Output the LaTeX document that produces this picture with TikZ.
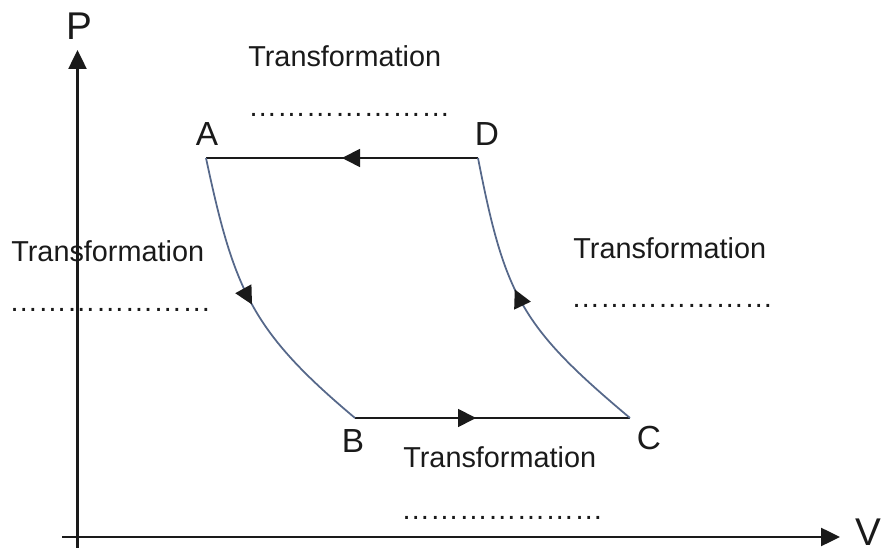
\documentclass[tikz,border=0pt]{standalone}
\usepackage{fontspec}
\setmainfont{Liberation Sans}
\usepackage{tikz}
\usepackage{xcolor}
\usetikzlibrary{arrows.meta,decorations.markings}
\definecolor{ink}{HTML}{1A1A1A}
\definecolor{curveblue}{HTML}{56688A}
\newcommand{\fillin}{\char"2026\char"2026\char"2026\char"2026\char"2026\char"2026\char"2026}
\tikzset{
  axis/.style={-{Triangle[length=3.8mm,width=3.6mm]},line width=1.4pt,
               draw=ink},
  edge/.style={line width=1pt,draw=ink},
  adiabat/.style={line width=1pt,draw=curveblue},
  midarrow/.style={postaction={decorate},
                   decoration={markings,mark=at position #1 with
                     {\arrow[color=ink]{Triangle[length=3.6mm,width=3.6mm]}}}},
  ptlabel/.style={font=\fontsize{19}{22}\selectfont,text=ink,inner sep=0pt},
  axislabel/.style={font=\fontsize{22}{26}\selectfont,text=ink,inner sep=0pt},
  note/.style={font=\fontsize{16.4}{19}\selectfont,text=ink,inner sep=0pt,
               anchor=base west}
}

\begin{document}
\begin{tikzpicture}[x=1cm,y=1cm]
    \path[use as bounding box] (0,0) rectangle (17.68,11.04);
    % axes
    \coordinate (ybot) at (1.55,0.08);
    \coordinate (ytip) at (1.55,10.04);
    \coordinate (xleft) at (1.24,0.30);
    \coordinate (xtip) at (16.80,0.30);
    \draw[axis] (ybot) -- (ytip);
    \draw[axis] (xleft) -- (xtip);
    \node[axislabel] (lblP) at (1.58,10.52) {P};
    \node[axislabel] (lblV) at (17.36,0.40) {V};

    % cycle
    \coordinate (A) at (4.12,7.88);
    \coordinate (D) at (9.56,7.88);
    \coordinate (B) at (7.10,2.68);
    \coordinate (C) at (12.60,2.68);
    \draw[edge,midarrow=0.5] (D) -- (A);
    \draw[edge,midarrow=0.44] (B) -- (C);
    \draw[adiabat,midarrow=0.5] (A) to[out=-78,in=140,looseness=1.15] (B);
    \draw[adiabat,midarrow=0.56] (C) to[out=140,in=-79,looseness=1.2] (D);
    \node[ptlabel] (lblA) at (4.14,8.36) {A};
    \node[ptlabel] (lblD) at (9.74,8.36) {D};
    \node[ptlabel] (lblB) at (7.06,2.22) {B};
    \node[ptlabel] (lblC) at (12.98,2.28) {C};

    % transformations to fill in
    \node[note] (tAD) at (4.96,9.70) {Transformation};
    \node[note] (dAD) at (4.96,8.70) {\fillin};
    \node[note] (tAB) at (0.22,5.80) {Transformation};
    \node[note] (dAB) at (0.18,4.80) {\fillin};
    \node[note] (tCD) at (11.46,5.86) {Transformation};
    \node[note] (dCD) at (11.42,4.88) {\fillin};
    \node[note] (tBC) at (8.06,1.68) {Transformation};
    \node[note] (dBC) at (8.02,0.64) {\fillin};
  \end{tikzpicture}
\end{document}
